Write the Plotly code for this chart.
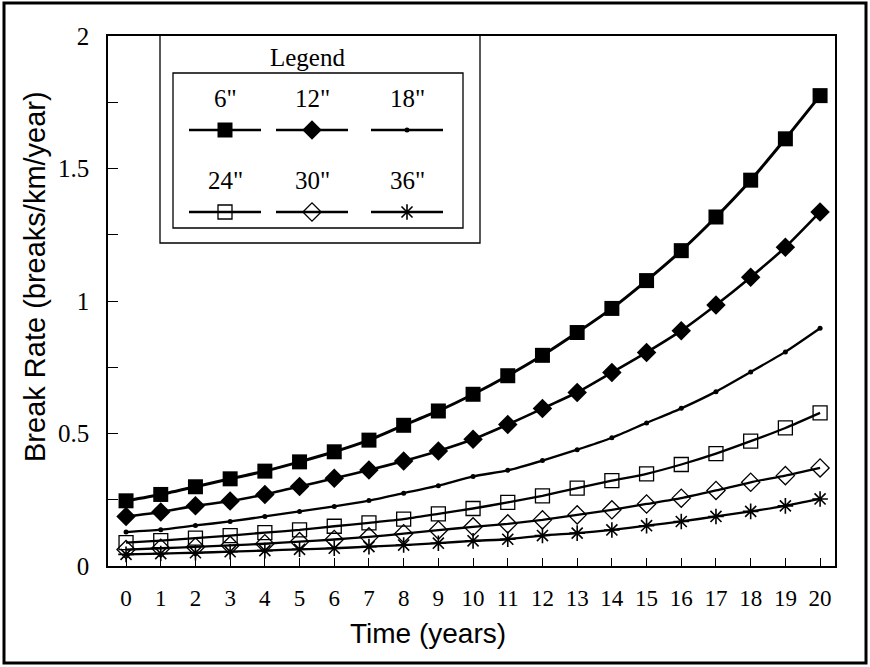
import plotly.graph_objects as go

# Years since installation
years = list(range(0, 21))

# Break rate (breaks/km/year) by pipe diameter
rate_6in = [0.246, 0.270, 0.299, 0.329, 0.358, 0.393, 0.431, 0.475, 0.531, 0.585, 0.648,
            0.718, 0.795, 0.881, 0.972, 1.077, 1.190, 1.317, 1.456, 1.612, 1.775]
rate_12in = [0.187, 0.204, 0.227, 0.245, 0.270, 0.300, 0.331, 0.362, 0.396, 0.434, 0.478,
             0.534, 0.594, 0.655, 0.730, 0.806, 0.888, 0.985, 1.090, 1.203, 1.336]
rate_18in = [0.128, 0.137, 0.153, 0.168, 0.187, 0.206, 0.225, 0.247, 0.275, 0.303, 0.338,
             0.361, 0.398, 0.439, 0.484, 0.540, 0.595, 0.658, 0.732, 0.808, 0.897]
rate_24in = [0.088, 0.096, 0.105, 0.115, 0.126, 0.136, 0.150, 0.163, 0.177, 0.197, 0.217,
             0.240, 0.265, 0.294, 0.322, 0.348, 0.383, 0.424, 0.471, 0.521, 0.578]
rate_30in = [0.062, 0.067, 0.072, 0.078, 0.084, 0.092, 0.100, 0.110, 0.122, 0.135, 0.148,
             0.159, 0.174, 0.193, 0.212, 0.234, 0.256, 0.285, 0.316, 0.341, 0.370]
rate_36in = [0.044, 0.047, 0.050, 0.054, 0.058, 0.063, 0.067, 0.073, 0.079, 0.086, 0.095,
             0.101, 0.115, 0.124, 0.136, 0.152, 0.168, 0.187, 0.206, 0.227, 0.253]

series_names = ['6"', '12"', '18"', '24"', '30"', '36"']
series_values = [rate_6in, rate_12in, rate_18in, rate_24in, rate_30in, rate_36in]

y_ticks = [0, 0.5, 1, 1.5, 2]
y_tick_text = ["0", "0.5", "1", "1.5", "2"]

# marker / line styling per diameter
styles = [
    dict(symbol="square", size=15, lw=3.0, mlw=0),
    dict(symbol="diamond", size=15, lw=2.6, mlw=0),
    dict(symbol="circle", size=5, lw=2.3, mlw=0),
    dict(symbol="square-open", size=14, lw=2.3, mlw=1.3),
    dict(symbol="diamond-open", size=14, lw=2.3, mlw=1.3),
    dict(symbol="asterisk-open", size=13, lw=2.3, mlw=1.6),
]

W, H = 870, 667
L, R, T, B = 108, 35, 36, 101
PW, PH = W - L - R, H - T - B

fig = go.Figure()

for name, vals, st in zip(series_names, series_values, styles):
    fig.add_trace(go.Scatter(
        x=years, y=vals, name=name, mode="lines+markers",
        line=dict(color="black", width=st["lw"], shape="spline", smoothing=0.6),
        marker=dict(symbol=st["symbol"], size=st["size"], color="black",
                    line=dict(color="black", width=st["mlw"])),
        showlegend=False, cliponaxis=False,
    ))

# legend drawn on an overlay axis pair measured in page pixels
legend_cols = [225, 312, 407]
legend_half = 36
label_rows = [98, 180]
line_rows = [130, 212]

for i, (name, st) in enumerate(zip(series_names, styles)):
    row, col = divmod(i, 3)
    cx = legend_cols[col]
    ly = line_rows[row]
    fig.add_trace(go.Scatter(
        x=[cx - legend_half, cx + legend_half], y=[ly, ly], mode="lines",
        line=dict(color="black", width=2.3), xaxis="x2", yaxis="y2",
        showlegend=False, hoverinfo="skip",
    ))
    fig.add_trace(go.Scatter(
        x=[cx], y=[ly], mode="markers",
        marker=dict(symbol=st["symbol"], size=st["size"], color="black",
                    line=dict(color="black", width=st["mlw"])),
        xaxis="x2", yaxis="y2", showlegend=False, hoverinfo="skip",
    ))
    fig.add_annotation(x=cx, y=label_rows[row], xref="x2", yref="y2", text=name,
                       showarrow=False, xanchor="center", yanchor="middle",
                       font=dict(family="Liberation Serif", size=25, color="black"))

fig.add_annotation(x=307, y=57, xref="x2", yref="y2", text="Legend", showarrow=False,
                   xanchor="center", yanchor="middle",
                   font=dict(family="Liberation Serif", size=25, color="black"))

shapes = [
    # legend outer and inner frames
    dict(type="rect", xref="x2", yref="y2", x0=160, x1=480, y0=35, y1=243,
         line=dict(color="black", width=1.3), fillcolor="rgba(0,0,0,0)", layer="below"),
    dict(type="rect", xref="x2", yref="y2", x0=173, x1=463, y0=73, y1=228,
         line=dict(color="black", width=1.3), fillcolor="rgba(0,0,0,0)", layer="below"),
    # outer frame around the whole figure
    dict(type="rect", xref="paper", yref="paper",
         x0=(4 - L) / PW, x1=(866 - L) / PW,
         y0=(H - B - 663) / PH, y1=(H - B - 3) / PH,
         line=dict(color="black", width=3), fillcolor="rgba(0,0,0,0)"),
]

fig.add_annotation(x=(428 - L) / PW, y=(H - B - 633) / PH, xref="paper", yref="paper",
                   text="Time (years)", showarrow=False, xanchor="center", yanchor="middle",
                   font=dict(family="Liberation Sans", size=28, color="black"))
fig.add_annotation(x=(35 - L) / PW, y=(H - B - 277) / PH, xref="paper", yref="paper",
                   text="Break Rate (breaks/km/year)", showarrow=False, textangle=-90,
                   xanchor="center", yanchor="middle",
                   font=dict(family="Liberation Sans", size=29, color="black"))

fig.update_layout(
    width=W, height=H,
    margin=dict(l=L, r=R, t=T, b=B, pad=0),
    paper_bgcolor="white", plot_bgcolor="white",
    shapes=shapes,
    xaxis=dict(
        range=[-0.52, 20.43], tickmode="array", tickvals=years,
        ticktext=[str(v) for v in years],
        ticks="inside", ticklen=8, tickwidth=1, tickcolor="black",
        showline=True, linecolor="black", linewidth=1.5, mirror=True,
        showgrid=False, zeroline=False, ticklabelstandoff=11,
        tickfont=dict(family="Liberation Serif", size=23, color="black"),
    ),
    yaxis=dict(
        range=[0, 2], tickmode="array", tickvals=y_ticks, ticktext=y_tick_text,
        ticks="inside", ticklen=10, tickwidth=1, tickcolor="black",
        minor=dict(tickmode="array", tickvals=[0.25, 0.75, 1.25, 1.75],
                   ticks="inside", ticklen=10, tickwidth=1, tickcolor="black"),
        showline=True, linecolor="black", linewidth=1.5, mirror=True,
        showgrid=False, zeroline=False, ticklabelstandoff=12,
        tickfont=dict(family="Liberation Serif", size=25, color="black"),
    ),
    xaxis2=dict(range=[L, L + PW], overlaying="x", visible=False, fixedrange=True),
    yaxis2=dict(range=[T + PH, T], overlaying="y", visible=False, fixedrange=True),
)

fig.write_html("out.html")
